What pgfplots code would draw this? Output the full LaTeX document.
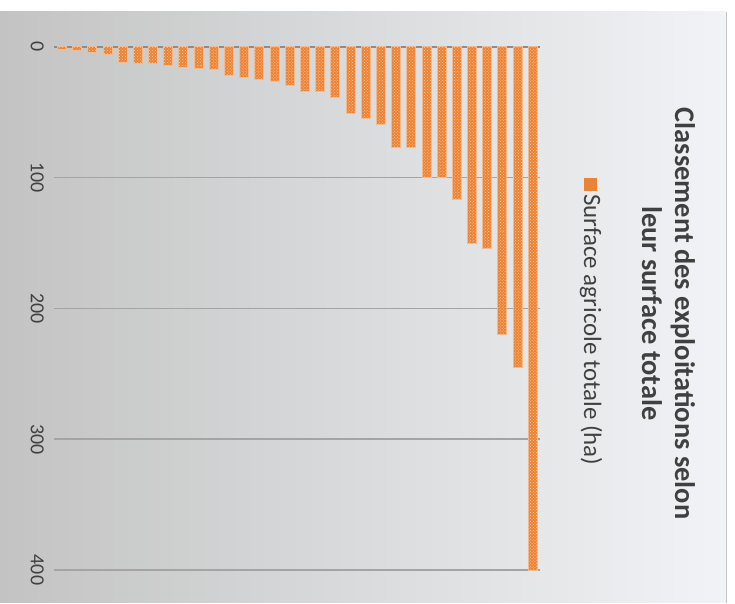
\documentclass[border=0pt]{standalone}
\usepackage{pgfplots}
\pgfplotsset{compat=1.18}
\usetikzlibrary{patterns}
\usepackage{fontspec}
\setmainfont{Carlito}
\definecolor{barfill}{HTML}{EE8233}
\definecolor{barline}{HTML}{F6B98C}
\definecolor{bgleft}{HTML}{C3C3C3}
\definecolor{bgright}{HTML}{F1F3F6}
\definecolor{gridc}{HTML}{A4A4A4}
\definecolor{zeroc}{HTML}{8C8C8C}
\definecolor{textc}{HTML}{404040}
\begin{document}
\begin{tikzpicture}[x=1bp,y=1bp]
\path (0,0) rectangle (735,603);
\shade[left color=bgleft, right color=bgright] (0,0) rectangle (726,591);
\draw[gray!45, line width=1bp] (726,0) -- (726,591);
\begin{axis}[
  at={(54.4bp,556bp)}, anchor=north west,
  scale only axis, width=486bp, height=523bp,
  xmin=0.5, xmax=32.5, ymin=0, ymax=400, y dir=reverse,
  axis line style={draw=none},
  xtick=\empty,
  ytick={0,100,200,300,400},
  major tick length=0pt,
  ymajorgrids,
  grid style={gridc, line width=1.5bp},
  extra y ticks={0}, extra y tick labels={},
  extra y tick style={grid style={zeroc, line width=1.8bp}},
  yticklabel style={rotate=-90, anchor=north, font=\fontsize{20}{24}\selectfont, text=textc},
  yticklabel shift=7bp,
  /pgf/number format/assume math mode=true,
  clip=false,
]
\addplot[ybar, bar width=9bp, fill=barfill, draw=barline, line width=1bp,
  postaction={pattern=crosshatch dots, pattern color=barline!70}] coordinates {
(1,2) (2,3) (3,4.5) (4,5.5) (5,11.5) (6,12.5) (7,12.5) (8,14)
(9,15.5) (10,16.5) (11,17.5) (12,22) (13,23.5) (14,25) (15,26.5) (16,29.5)
(17,34) (18,34) (19,38.5) (20,50.5) (21,55) (22,59) (23,77) (24,77)
(25,100) (26,100) (27,117) (28,150) (29,154) (30,220) (31,245) (32,400)
};
\end{axis}
\node[rotate=-90, align=center, text=textc, font=\bfseries\fontsize{28.5}{33}\selectfont] at (668.5,289.5)
  {Classement des exploitations selon\\leur surface totale};
\node[rotate=-90, anchor=west, text=textc, font=\fontsize{25}{30}\selectfont, inner sep=0pt] at (591,425)
  {\textcolor{barfill}{\rule{13bp}{13bp}}\hspace{3bp}Surface agricole totale (ha)};
\end{tikzpicture}
\end{document}
